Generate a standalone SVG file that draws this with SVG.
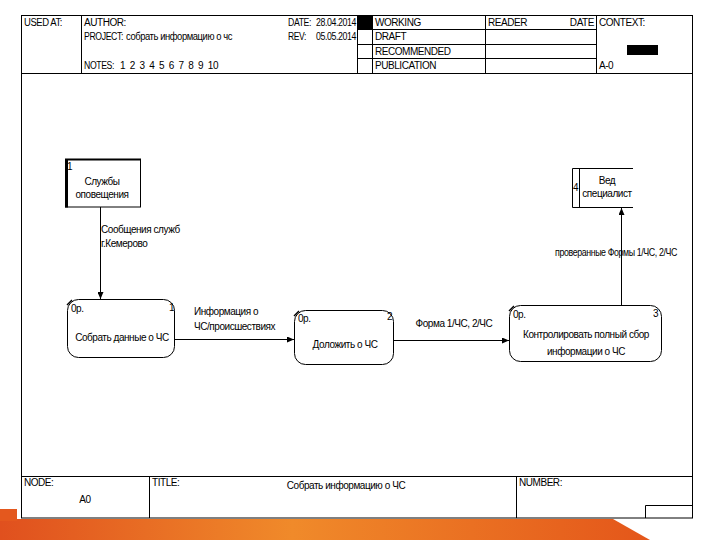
<svg xmlns="http://www.w3.org/2000/svg" width="720" height="540" viewBox="0 0 720 540">
<defs>
<linearGradient id="band" x1="0" y1="0" x2="1" y2="0">
<stop offset="0" stop-color="#e0501e"/>
<stop offset="0.45" stop-color="#f08a2a"/>
<stop offset="1" stop-color="#e4561a"/>
</linearGradient>
<marker id="arr" markerWidth="8" markerHeight="6" refX="7" refY="3" orient="auto" markerUnits="userSpaceOnUse">
<path d="M0,0 L7,3 L0,6 Z" fill="#000"/>
</marker>
<style>
text{font-family:"Liberation Sans",Arial,sans-serif;font-size:10px;letter-spacing:-0.45px;fill:#000;white-space:pre}
.c{text-anchor:middle}
.r{text-anchor:end}
.ln{stroke:#000;stroke-width:1;fill:none}
.proc{fill:#fff;stroke:#000;stroke-width:1}
.conn{stroke:#000;stroke-width:1;fill:none;marker-end:url(#arr)}
</style>
</defs>
<rect width="720" height="540" fill="#fff"/>
<!-- orange band -->
<polygon points="0,519 613,519 650,540 0,540" fill="url(#band)"/>
<rect x="0" y="509" width="17" height="12" fill="#e4581e"/>
<!-- frame -->
<g id="frame">
<rect x="21.5" y="15.5" width="671" height="502.5" class="ln"/>
<line x1="21.5" y1="73.5" x2="692.5" y2="73.5" class="ln"/>
<line x1="21.5" y1="476.5" x2="692.5" y2="476.5" class="ln"/>
<line x1="81.5" y1="15.5" x2="81.5" y2="73.5" class="ln"/>
<line x1="357.5" y1="15.5" x2="357.5" y2="73.5" class="ln"/>
<line x1="372.5" y1="15.5" x2="372.5" y2="73.5" class="ln"/>
<line x1="485.5" y1="15.5" x2="485.5" y2="73.5" class="ln"/>
<line x1="596.5" y1="15.5" x2="596.5" y2="73.5" class="ln"/>
<line x1="357.5" y1="29.5" x2="596.5" y2="29.5" class="ln"/>
<line x1="357.5" y1="44.5" x2="596.5" y2="44.5" class="ln"/>
<line x1="357.5" y1="58.5" x2="596.5" y2="58.5" class="ln"/>
<rect x="357.5" y="15.5" width="15" height="14" fill="#000"/>
<rect x="627" y="45" width="31" height="10" fill="#000"/>
<line x1="149.5" y1="476.5" x2="149.5" y2="518" class="ln"/>
<line x1="516.5" y1="476.5" x2="516.5" y2="518" class="ln"/>
<polyline points="645.5,518 645.5,505.5 692.5,505.5" class="ln"/>
<text x="24" y="26" textLength="38" lengthAdjust="spacingAndGlyphs">USED AT:</text>
<text x="84" y="26">AUTHOR:</text>
<text x="84" y="40" textLength="39" lengthAdjust="spacingAndGlyphs">PROJECT:</text>
<text x="126" y="40" textLength="106" lengthAdjust="spacingAndGlyphs">собрать информацию о чс</text>
<text x="84" y="69" textLength="30" lengthAdjust="spacingAndGlyphs">NOTES:</text>
<text x="120" y="69" textLength="98" lengthAdjust="spacingAndGlyphs">1  2  3  4  5  6  7  8  9  10</text>
<text x="288" y="26" textLength="23" lengthAdjust="spacingAndGlyphs">DATE:</text>
<text x="316" y="26" textLength="40" lengthAdjust="spacingAndGlyphs">28.04.2014</text>
<text x="288" y="40" textLength="18" lengthAdjust="spacingAndGlyphs">REV:</text>
<text x="316" y="40" textLength="40" lengthAdjust="spacingAndGlyphs">05.05.2014</text>
<text x="375" y="26">WORKING</text>
<text x="375" y="40">DRAFT</text>
<text x="375" y="55">RECOMMENDED</text>
<text x="375" y="69">PUBLICATION</text>
<text x="488" y="26">READER</text>
<text x="594" y="26" class="r">DATE</text>
<text x="599" y="26">CONTEXT:</text>
<text x="599" y="69">A-0</text>
<text x="24" y="486">NODE:</text>
<text x="85" y="503" class="c">A0</text>
<text x="152" y="486">TITLE:</text>
<text x="346" y="489" class="c">Собрать информацию о ЧС</text>
<text x="519" y="486">NUMBER:</text>
</g>
<!-- connectors -->
<g id="connectors">
<line x1="100.5" y1="207" x2="100.5" y2="299" class="conn"/>
<line x1="175" y1="339.5" x2="294" y2="339.5" class="conn"/>
<line x1="394" y1="340.5" x2="509" y2="340.5" class="conn"/>
<line x1="621.5" y1="305" x2="621.5" y2="208" class="conn"/>
<text x="101" y="233">Сообщения служб</text>
<text x="101" y="247">г.Кемерово</text>
<text x="194" y="315">Информация о</text>
<text x="194" y="330">ЧС/происшествиях</text>
<text x="454" y="327" class="c">Форма 1/ЧС, 2/ЧС</text>
<text x="555" y="256" textLength="122" lengthAdjust="spacingAndGlyphs">проверанные Формы 1/ЧС, 2/ЧС</text>
</g>
<!-- external entity 1 -->
<g id="ext1">
<rect x="65.5" y="159.5" width="75" height="47.5" fill="#fff" stroke="#000"/>
<line x1="66.5" y1="159" x2="66.5" y2="207.5" stroke="#000" stroke-width="3"/>
<line x1="65" y1="159.5" x2="141" y2="159.5" stroke="#000" stroke-width="2"/>
<text x="67" y="170">1</text>
<text x="102" y="185" class="c">Службы</text>
<text x="102" y="198" class="c">оповещения</text>
</g>
<!-- external entity 4 -->
<g id="ext4">
<polyline points="633,168.5 572.5,168.5 572.5,207.5 633,207.5" class="ln"/>
<line x1="579.5" y1="168.5" x2="579.5" y2="207.5" class="ln"/>
<text x="573" y="191">4</text>
<text x="607" y="184" class="c">Вед</text>
<text x="607" y="197" class="c">специалист</text>
</g>
<!-- process 1 -->
<g id="proc1">
<rect x="67.5" y="299.5" width="107" height="58" rx="11" class="proc"/>
<line x1="67" y1="305" x2="72" y2="300" stroke="#000" stroke-width="1.5"/>
<text x="71" y="312">0р.</text>
<text x="169" y="311">1</text>
<text x="122" y="341" class="c">Собрать данные о ЧС</text>
</g>
<!-- process 2 -->
<g id="proc2">
<rect x="294.5" y="310.5" width="99" height="54" rx="11" class="proc"/>
<line x1="294" y1="316" x2="299" y2="311" stroke="#000" stroke-width="1.5"/>
<text x="298" y="322">0р.</text>
<text x="387" y="320">2</text>
<text x="345" y="348" class="c">Доложить о ЧС</text>
</g>
<!-- process 3 -->
<g id="proc3">
<rect x="509.5" y="305.5" width="152" height="56" rx="11" class="proc"/>
<line x1="509" y1="311" x2="514" y2="306" stroke="#000" stroke-width="1.5"/>
<text x="513" y="318">0р.</text>
<text x="653" y="317">3</text>
<text x="586" y="338" class="c">Контролировать полный сбор</text>
<text x="586" y="355" class="c">информации о ЧС</text>
</g>
</svg>
